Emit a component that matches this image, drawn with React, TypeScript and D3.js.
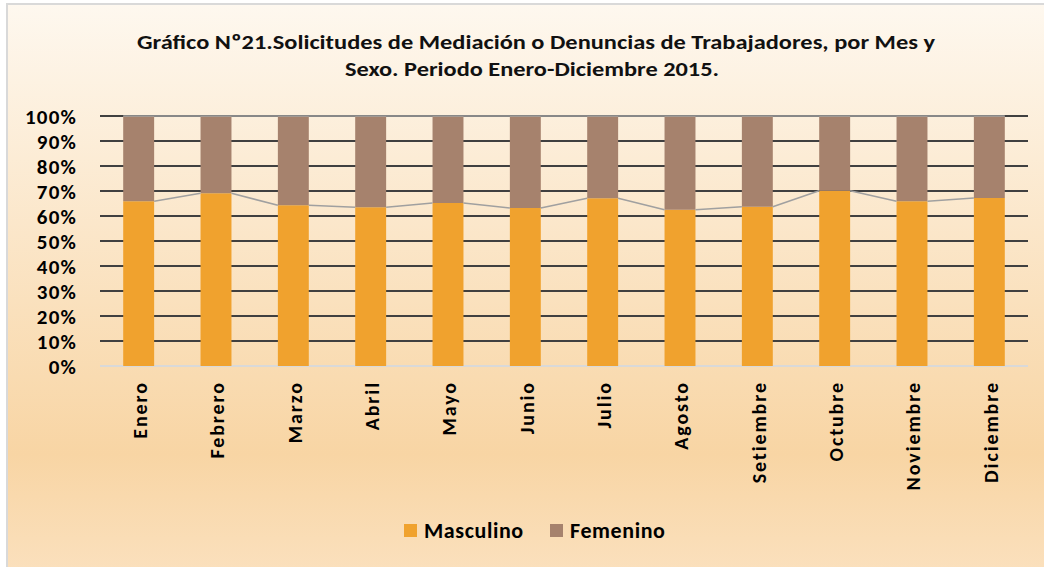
import React from "react";
import * as d3 from "d3";

const months = ["Enero","Febrero","Marzo","Abril","Mayo","Junio","Julio","Agosto","Setiembre","Octubre","Noviembre","Diciembre"];
const masculino = [65.9, 69.1, 64.3, 63.5, 65.2, 63.2, 67.1, 62.5, 63.7, 70.1, 65.9, 67.2];
const femenino = masculino.map((m) => 100 - m);
const yTicks = [0, 10, 20, 30, 40, 50, 60, 70, 80, 90, 100];
const seriesNames = ["Masculino", "Femenino"];
const colors = ["#f0a22e", "#a6826d"];

const W = 1044, H = 567;
const FONT = "Carlito, Calibri, Lato, 'Open Sans', sans-serif";

export default function App() {
  const x = d3.scaleBand<string>().domain(months).range([100, 1028]).paddingInner(0.6).paddingOuter(0.3);
  const y = d3.scaleLinear().domain([0, 100]).range([366, 116]);
  const stackData = months.map((m, i) => ({ month: m, Masculino: masculino[i], Femenino: femenino[i] }));
  const stack = d3.stack<any>().keys(seriesNames)(stackData);
  const bw = x.bandwidth();

  const seriesLinePts: [number, number][][] = [];
  for (let i = 0; i < months.length - 1; i++) {
    seriesLinePts.push([
      [x(months[i])! + bw, y(masculino[i])],
      [x(months[i + 1])!, y(masculino[i + 1])],
    ]);
  }
  const line = d3.line();

  return (
    <svg width={W} height={H} style={{ position: "absolute", left: 0, top: 0 }} fontFamily={FONT}>
      <defs>
        <linearGradient id="bg" x1="0" y1="0" x2="0" y2="1">
          <stop offset="0" stopColor="#fef8ef" />
          <stop offset="0.78" stopColor="#f8d5a4" />
          <stop offset="1" stopColor="#fbe1bf" />
        </linearGradient>
      </defs>
      <rect x={0} y={0} width={W} height={H} fill="#ffffff" />
      <rect x={7} y={4} width={W + 10} height={H + 10} fill="url(#bg)" stroke="#d9d9d9" strokeWidth={2} />

      <text x={536} y={49} textAnchor="middle" fontSize={21} fontWeight="bold" fill="#111" textLength={798} lengthAdjust="spacingAndGlyphs">
        Gráfico Nº21.Solicitudes de Mediación o Denuncias de Trabajadores, por Mes y
      </text>
      <text x={532} y={76} textAnchor="middle" fontSize={21} fontWeight="bold" fill="#111" textLength={374} lengthAdjust="spacingAndGlyphs">
        Sexo. Periodo Enero-Diciembre 2015.
      </text>

      {yTicks.filter((t) => t > 0).map((t) => (
        <line key={t} x1={100} x2={1028} y1={y(t)} y2={y(t)} stroke="#404040" strokeWidth={1.8} />
      ))}
      <line x1={100} x2={1028} y1={y(0)} y2={y(0)} stroke="#d9d9d9" strokeWidth={2} />

      {stack.map((s, si) => (
        <g key={s.key} fill={colors[si]}>
          {s.map((d: any, i: number) => (
            <rect key={i} x={x(months[i])} y={y(d[1])} width={bw} height={y(d[0]) - y(d[1])} />
          ))}
        </g>
      ))}

      {seriesLinePts.map((p, i) => (
        <path key={i} d={line(p)!} stroke="#a0a0a0" strokeWidth={1.6} fill="none" />
      ))}
      <line x1={x(months[0])} x2={x(months[months.length - 1])! + bw} y1={y(100)} y2={y(100)} stroke="#a0a0a0" strokeWidth={1.6} />

      {yTicks.map((t) => (
        <text key={t} x={77} y={y(t)} dy="0.36em" textAnchor="end" fontSize={21} fontWeight="bold" letterSpacing={1.2} fill="#000">
          {t}%
        </text>
      ))}

      {months.map((m) => (
        <text key={m} transform={`translate(${x(m)! + bw / 2 + 1},381) rotate(-90)`} textAnchor="end" dy="0.36em" fontSize={20} fontWeight="bold" letterSpacing={1.9} fill="#000">
          {m}
        </text>
      ))}

      {seriesNames.map((n, i) => {
        const lx = [404, 550][i];
        return (
          <g key={n}>
            <rect x={lx} y={524} width={13} height={13} fill={colors[i]} />
            <text x={lx + 20} y={538} fontSize={22} fontWeight="bold" letterSpacing={0.6} fill="#000">{n}</text>
          </g>
        );
      })}
    </svg>
  );
}
